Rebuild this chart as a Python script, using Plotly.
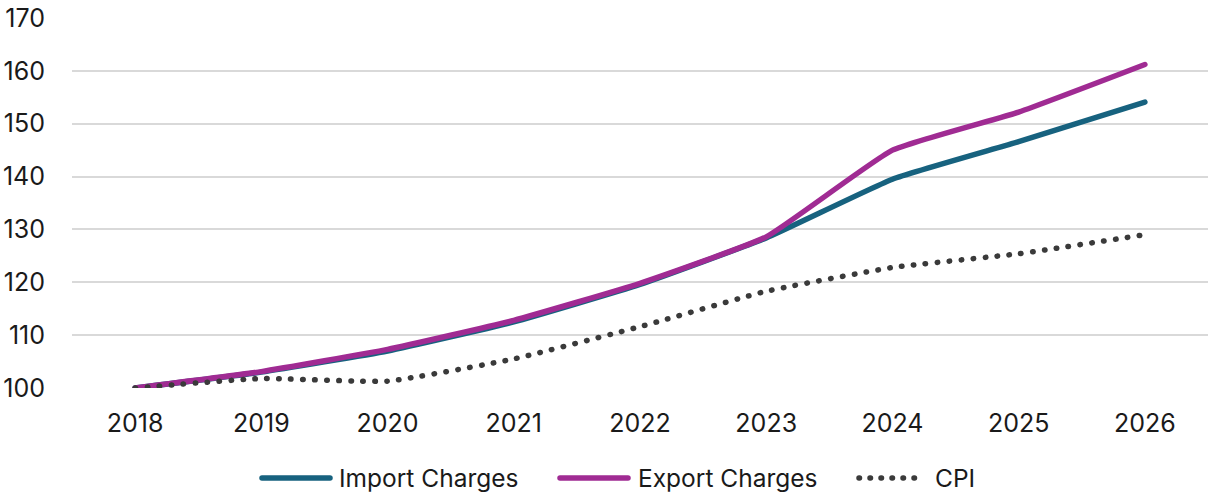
import plotly.graph_objects as go

years = ["2018", "2019", "2020", "2021", "2022", "2023", "2024", "2025", "2026"]
import_charges = [100, 103.0, 107.0, 112.5, 119.6, 128.4, 139.5, 146.6, 154.1]
export_charges = [100, 103.1, 107.3, 112.8, 119.8, 128.6, 145.0, 152.2, 161.2]
cpi = [100, 101.8, 101.3, 105.5, 111.6, 118.3, 122.8, 125.4, 129.0]
y_ticks = [100, 110, 120, 130, 140, 150, 160, 170]

series = [
    ("Import Charges", import_charges, "#17627F", "solid"),
    ("Export Charges", export_charges, "#A02B93", "solid"),
    ("CPI", cpi, "#3A3A3A", "0.5px,11.5px"),
]

fig = go.Figure()
for name, vals, color, dash in series:
    fig.add_trace(go.Scatter(x=years, y=vals, name=name, mode="lines", showlegend=False,
                             line=dict(color=color, width=5.5, dash=dash, shape="spline", smoothing=0.4)))

# custom legend (pixel layout converted to paper coords)
W, H = 1211, 493
L, R, T, B = 72, 3, 18, 105
pw, ph = W - L - R, H - T - B
def px(x):
    return (x - L) / pw
def py(y):
    return (H - B - y) / ph

legend_items = [(262, 330, 337), (560, 628, 636), (859, 920, 933)]
ly = 478
for (x0, x1, tx), (name, vals, color, dash) in zip(legend_items, series):
    ldash = "0.5px,10.5px" if name == "CPI" else dash
    fig.add_shape(type="line", xref="paper", yref="paper", x0=px(x0), x1=px(x1), y0=py(ly), y1=py(ly),
                  line=dict(color=color, width=5.5, dash=ldash))
    fig.add_annotation(xref="paper", yref="paper", x=px(tx), y=py(ly), text=name, showarrow=False,
                       xanchor="left", yanchor="middle", font=dict(size=24.5, color="#1a1a1a"))

fig.update_layout(
    width=W, height=H,
    margin=dict(l=L, r=R, t=T, b=B),
    paper_bgcolor="white", plot_bgcolor="white",
    font=dict(family="Inter, Liberation Sans, sans-serif", size=25, color="#1a1a1a"),
    showlegend=False,
    xaxis=dict(type="category", range=[-0.5, 8.5], showgrid=False, showline=False, zeroline=False,
               ticks="", ticklabelstandoff=18, tickfont=dict(size=25)),
    yaxis=dict(range=[100, 170], tickvals=y_ticks, showgrid=True, gridcolor="#D9D9D9",
               gridwidth=2, zeroline=False, showline=False, ticks="",
               ticklabelstandoff=26, tickfont=dict(size=25)),
)

post = (
    "document.body.style.margin='0';document.body.style.overflow='hidden';"
    "document.querySelectorAll('.scatterlayer path.js-line, .shapelayer path').forEach("
    "function(p){p.style.strokeLinecap='round';});"
)
fig.write_html("out.html", config={"displayModeBar": False}, post_script=post)
